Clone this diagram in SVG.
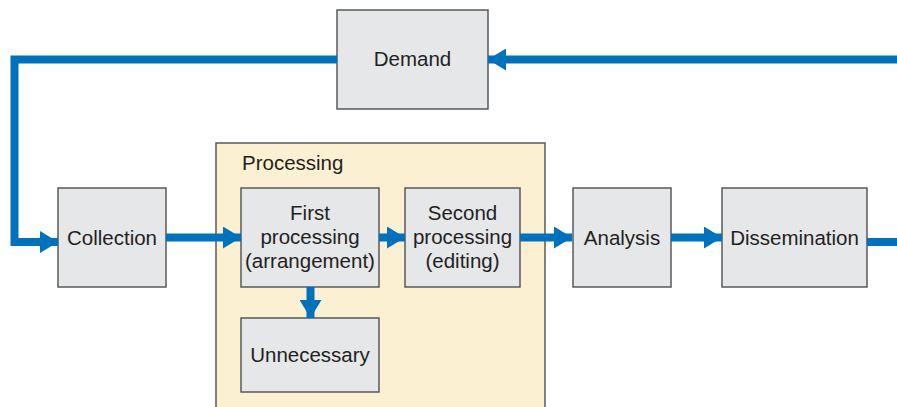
<svg xmlns="http://www.w3.org/2000/svg" width="897" height="407" viewBox="0 0 897 407">
<defs>
<style>
.box{fill:#e6e7e9;stroke:#58595b;stroke-width:1.5}
.cont{fill:#fcf0d2;stroke:#58595b;stroke-width:1.5}
.t{font-family:"Liberation Sans",Arial,sans-serif;font-size:20.5px;fill:#231f20;text-anchor:middle}
.tl{font-family:"Liberation Sans",Arial,sans-serif;font-size:20.5px;fill:#231f20}
.c{fill:none;stroke:#0072bc;stroke-width:8}
</style>
<marker id="ah" markerUnits="userSpaceOnUse" markerWidth="18" markerHeight="22" refX="18" refY="11" orient="auto" viewBox="0 0 18 22">
<path d="M0,0 L18,11 L0,22 Z" fill="#0072bc"/>
</marker>
</defs>
<g id="processing">
<rect class="cont" x="216" y="143" width="329" height="270"/>
<text class="tl" x="242" y="170">Processing</text>
</g>
<g id="demand">
<rect class="box" x="337" y="10" width="151" height="99"/>
<text class="t" x="412.5" y="66">Demand</text>
</g>
<g id="collection">
<rect class="box" x="58" y="188" width="108" height="99"/>
<text class="t" x="112" y="245">Collection</text>
</g>
<g id="first">
<rect class="box" x="241" y="188" width="138" height="99"/>
<text class="t" x="310" y="220">First</text>
<text class="t" x="310" y="244">processing</text>
<text class="t" x="310" y="268">(arrangement)</text>
</g>
<g id="second">
<rect class="box" x="405" y="188" width="115" height="99"/>
<text class="t" x="462.5" y="220">Second</text>
<text class="t" x="462.5" y="244">processing</text>
<text class="t" x="462.5" y="268">(editing)</text>
</g>
<g id="unnecessary">
<rect class="box" x="241" y="318" width="138" height="74"/>
<text class="t" x="310" y="362">Unnecessary</text>
</g>
<g id="analysis">
<rect class="box" x="573" y="188" width="98" height="99"/>
<text class="t" x="622" y="245">Analysis</text>
</g>
<g id="dissemination">
<rect class="box" x="722" y="188" width="145" height="99"/>
<text class="t" x="794.5" y="245">Dissemination</text>
</g>
<g id="connectors">
<path class="c" d="M897,59.5 L488,59.5" marker-end="url(#ah)"/>
<path class="c" d="M337,59.5 L14.5,59.5 L14.5,242 L58,242" stroke-linejoin="miter" marker-end="url(#ah)"/>
<path class="c" d="M166,237.5 L241,237.5" marker-end="url(#ah)"/>
<path class="c" d="M379,237.5 L405,237.5" marker-end="url(#ah)"/>
<path class="c" d="M520,237.5 L572,237.5" marker-end="url(#ah)"/>
<path class="c" d="M671,237.5 L722,237.5" marker-end="url(#ah)"/>
<path class="c" d="M867,242 L897,242"/>
<path class="c" d="M310.5,287 L310.5,318" marker-end="url(#ah)"/>
</g>
</svg>
